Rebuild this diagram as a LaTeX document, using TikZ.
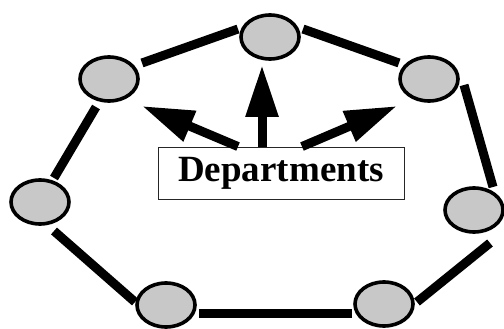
\documentclass[tikz,border=0pt]{standalone}
\usepackage{fontspec}
\setmainfont{Liberation Serif}
\usetikzlibrary{arrows.meta,calc}
\definecolor{deptgray}{RGB}{200,200,200}
\tikzset{
  dept/.style={ellipse, draw=black, line width=3.6pt, fill=deptgray,
    minimum width=58pt, minimum height=44pt, inner sep=0pt},
  ringlink/.style={line width=9pt, line cap=butt},
  pointer/.style={line width=9pt, -{Triangle[length=52pt,width=31pt]}},
  labelbox/.style={draw=black!85, line width=0.9pt, fill=white,
    minimum width=246pt, minimum height=52pt, inner sep=0pt,
    font=\bfseries\fontsize{37}{37}\selectfont}
}
\usetikzlibrary{shapes.geometric}
\begin{document}
\begin{tikzpicture}[x=1pt, y=-1pt]
\useasboundingbox (0,0) rectangle (504,329);

% departments around the ring
\node[dept] (top) at (270,37) {};
\node[dept] (ul)  at (109,79) {};
\node[dept] (ur)  at (429,79) {};
\node[dept] (lf)  at (40,202) {};
\node[dept] (rt)  at (474,210) {};
\node[dept] (bl)  at (166,305) {};
\node[dept] (br)  at (384,304) {};

% ring links, ending short of each ellipse
\draw[ringlink] ($(ul)+(33,-16)$) -- ($(top)+(-32,-8)$);
\draw[ringlink] ($(top)+(33,-8)$) -- ($(ur)+(-30,-16)$);
\draw[ringlink] ($(ur)+(35,6)$)   -- ($(rt)+(19,-23)$);
\draw[ringlink] ($(rt)+(16,33)$)  -- ($(br)+(33,-2)$);
\draw[ringlink] ($(br)+(-32,9)$)  -- ($(bl)+(33,8)$);
\draw[ringlink] ($(bl)+(-31,-3)$) -- ($(lf)+(14,29)$);
\draw[ringlink] ($(lf)+(14,-24)$) -- ($(ul)+(-13,28)$);

% label box
\node[labelbox] (lbl) at (281,173) {Departments};

% pointers from the label to three departments
\coordinate (tipL) at ($(ul)+(33,27)$);
\coordinate (tipM) at ($(top)+(-8,28)$);
\coordinate (tipR) at ($(ur)+(-32,27)$);
\draw[pointer] ($(lbl.north)+(-43,0)$) -- (tipL);
\draw[pointer] ($(lbl.north)+(-19,0)$) -- (tipM);
\draw[pointer] ($(lbl.north)+(21,0)$)  -- (tipR);
\end{tikzpicture}
\end{document}
